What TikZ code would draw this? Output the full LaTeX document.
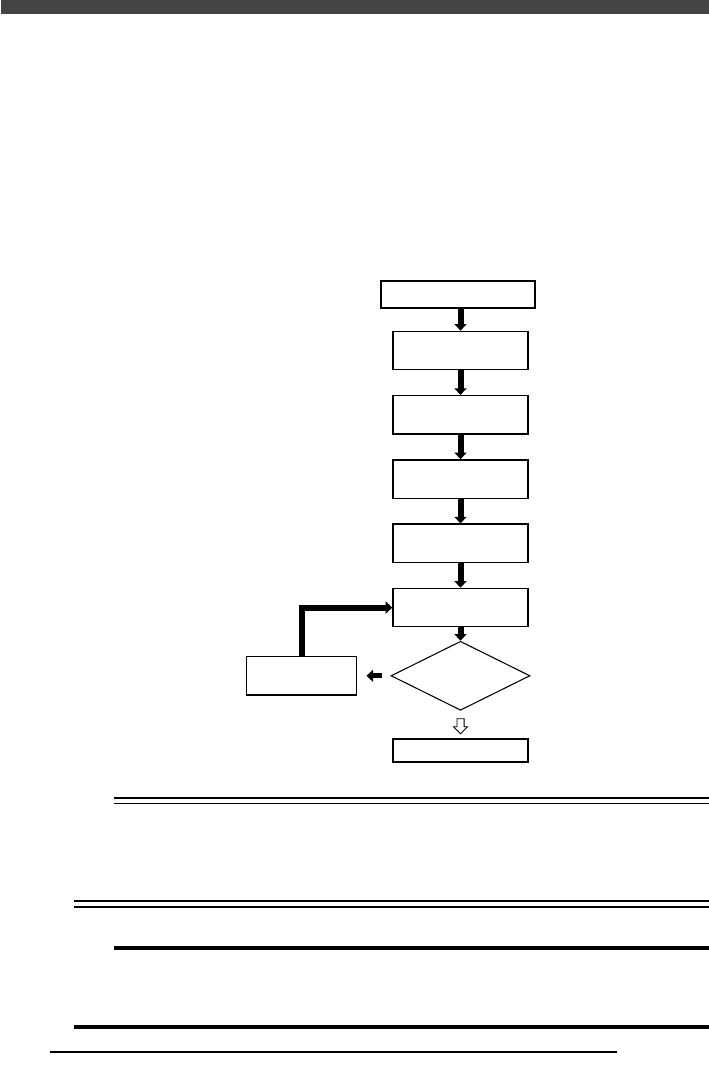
\documentclass[tikz,border=0pt]{standalone}
\usepackage{xcolor}
\usepackage{tikz}
\usetikzlibrary{arrows.meta,positioning,shapes.geometric,shapes.arrows}
\definecolor{bandgray}{HTML}{444444}

\begin{document}
\begin{tikzpicture}[
  x=0.75pt, y=-0.75pt,
  node distance=18.45pt,
  block/.style={rectangle, draw=black, line width=1pt, minimum width=101.25pt, minimum height=28.75pt, inner sep=0pt},
  decision/.style={diamond, draw=black, line width=0.8pt, minimum width=104.25pt, minimum height=51.75pt, inner sep=0pt},
  arrow/.style={-{Triangle[width=9pt,length=5pt]}, line width=4.5pt},
  hollow/.style={single arrow, draw=black, line width=0.6pt, fill=white, minimum height=11.25pt, inner sep=2.4pt, single arrow head extend=2.6pt, rotate=-90},
  rule/.style={line width=1pt}
]
\useasboundingbox (0,0) rectangle (709,1065);
\fill[bandgray] (1,0) rectangle (709,14);

\node[block, minimum width=115.5pt, minimum height=20.25pt] (start) at (458,294.5) {};
\node[block] (s1) at (460.5,350.5) {};
\node[block, below=of s1] (s2) {};
\node[block, below=of s2] (s3) {};
\node[block, below=of s3] (s4) {};
\node[block, below=of s4] (s5) {};
\node[decision, below=10pt of s5] (check) {};
\node[block, minimum width=82.5pt, left=24.75pt of check] (retry) {};
\node[block, line width=1.5pt, minimum height=17.25pt, below=20.5pt of check] (done) {};

\draw[arrow] (start.south -| s1) -- (s1);
\draw[arrow] (s1) -- (s2);
\draw[arrow] (s2) -- (s3);
\draw[arrow] (s3) -- (s4);
\draw[arrow] (s4) -- (s5);
\draw[arrow] (s5) -- (check);
\draw[arrow] (retry.north) |- (s5.west);
\draw[arrow, line width=3.75pt] ([xshift=-6pt]check.west) -- ([xshift=6.75pt]retry.east);
\path (check.south) -- node[hollow] (down) {} (done.north);

% rules below the chart
\draw[rule] (114,798) -- (709,798);
\draw[rule] (114,803.5) -- (709,803.5);
\draw[rule] (74,901) -- (709,901);
\draw[rule] (74,907) -- (709,907);
\draw[line width=2.6pt] (114,948) -- (709,948);
\draw[line width=3pt] (74,1027) -- (709,1027);
\draw[rule] (50,1052) -- (617,1052);
\end{tikzpicture}
\end{document}
